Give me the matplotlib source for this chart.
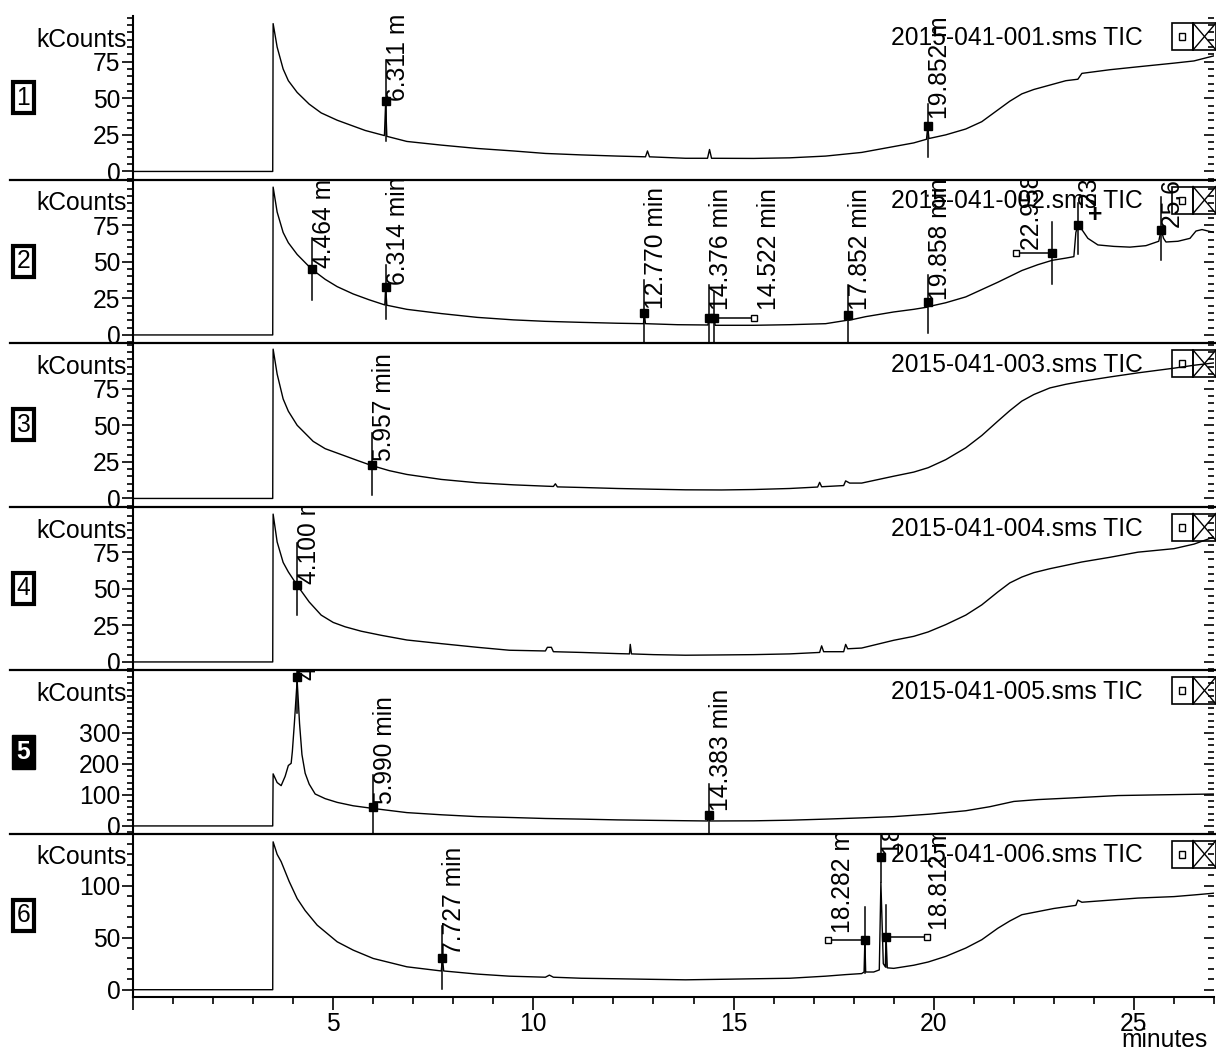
import matplotlib
matplotlib.use("Agg")
import matplotlib.pyplot as plt
from matplotlib.lines import Line2D
from matplotlib.patches import Rectangle
from matplotlib.ticker import FixedLocator, MultipleLocator

plt.rcParams['font.family'] = ['Liberation Sans', 'DejaVu Sans']

# ---- run names -------------------------------------------------------------
runs = ["2015-041-001.sms TIC", "2015-041-002.sms TIC", "2015-041-003.sms TIC",
        "2015-041-004.sms TIC", "2015-041-005.sms TIC", "2015-041-006.sms TIC"]

# ---- TIC traces (minutes, kCounts) -----------------------------------------
t1 = [0, 3.49, 3.5, 3.6, 3.75, 3.88, 4.1, 4.4, 4.7, 5.1, 5.5, 5.8, 6.28, 6.31, 6.34,
      6.84, 7.7, 8.6, 9.5, 10.3, 11.2, 12.1, 12.8, 12.85, 12.9, 13.8, 14.35, 14.4, 14.45,
      15.5, 16.4, 17.3, 18.2, 19.0, 19.5, 19.82, 19.85, 19.88, 20.3, 20.8, 21.2, 21.6,
      21.9, 22.2, 22.5, 22.9, 23.3, 23.6, 23.7, 24.4, 25.1, 26.0, 26.5, 27.0]
v1 = [0, 0, 101, 85, 70, 62, 54, 46, 40, 35, 31, 28, 24.5, 47, 24,
      20.5, 18, 15.7, 14, 12.3, 11.3, 10.5, 10, 14, 10, 9, 9, 15, 9,
      8.9, 9.3, 10.5, 13, 17, 19.5, 22, 31, 22.5, 25, 29, 34, 42,
      48, 53, 56, 59, 62, 63, 67, 69.5, 71.5, 74, 75.5, 79]

t2 = [0, 3.49, 3.5, 3.6, 3.75, 3.88, 4.1, 4.46, 4.8, 5.1, 5.5, 5.9, 6.29, 6.31, 6.34,
      6.84, 7.7, 8.6, 9.5, 10.3, 11.2, 12.1, 12.75, 12.77, 12.8, 13.6, 14.36, 14.38,
      14.52, 14.54, 15.5, 16.4, 17.3, 17.83, 17.85, 17.88, 18.3, 19.0, 19.5, 19.84,
      19.86, 19.89, 20.3, 20.8, 21.2, 21.6, 21.9, 22.2, 22.6, 22.96, 23.3, 23.5, 23.55,
      23.6, 23.7, 23.85, 24.1, 24.5, 24.9, 25.3, 25.62, 25.68, 25.74, 25.8, 26.1, 26.4,
      26.55, 26.7, 27.0]
v2 = [0, 0, 101, 84, 70, 63, 55, 45, 38, 33, 28, 24, 20.5, 33, 20.3,
      17.5, 14.6, 12, 10.3, 9.3, 8.6, 8, 7.7, 15.2, 7.7, 7, 6.8, 11.6,
      11.6, 6.6, 6.6, 7, 7.7, 10, 13.7, 10, 12.5, 15.7, 17.5, 19,
      22.5, 19.5, 22, 26, 31, 36, 40, 44, 48, 51, 52.5, 53.5, 70,
      75, 72, 66, 61.5, 60.5, 60, 61, 64, 72, 66, 63.5, 64, 66,
      71, 72, 70]

t3 = [0, 3.49, 3.5, 3.6, 3.75, 3.88, 4.1, 4.5, 4.8, 5.2, 5.6, 5.96, 6.4, 6.84, 7.7,
      8.6, 9.5, 10.3, 10.5, 10.55, 10.6, 11.2, 12.1, 13.0, 13.8, 14.7, 15.5, 16.4,
      17.1, 17.15, 17.2, 17.75, 17.8, 17.9, 18.2, 19.0, 19.5, 19.86, 20.3, 20.8, 21.2,
      21.6, 21.9, 22.2, 22.5, 22.9, 23.3, 23.7, 24.4, 25.1, 26.0, 26.5, 27.0]
v3 = [0, 0, 102, 85, 68, 59.6, 50, 39, 34, 30, 26, 22.5, 19, 16.4, 13,
      10.7, 9.3, 8.4, 8.2, 10, 7.9, 7.5, 6.8, 6.3, 5.9, 5.8, 6.1, 6.8,
      7.8, 11, 8, 8.8, 12, 10.5, 10.5, 15.2, 18, 21, 26.5, 34.6, 43,
      52.8, 60, 66.5, 71, 75.5, 78, 80, 83, 85.8, 89, 91, 92.6]

t4 = [0, 3.49, 3.5, 3.6, 3.75, 3.88, 4.1, 4.4, 4.7, 5.0, 5.3, 5.7, 6.2, 6.84, 7.7,
      8.6, 9.4, 10.3, 10.35, 10.45, 10.5, 11.2, 12.1, 12.4, 12.42, 12.45, 13.0, 13.8,
      14.7, 15.5, 16.4, 17.15, 17.2, 17.25, 17.75, 17.8, 17.85, 18.2, 19.0, 19.5,
      19.86, 20.3, 20.8, 21.2, 21.6, 21.9, 22.2, 22.5, 22.9, 23.3, 23.7, 24.4, 25.1,
      26.0, 26.5, 27.0]
v4 = [0, 0, 101, 82, 68, 61.5, 52.4, 41, 32, 27, 24, 21, 18.2, 15, 12.5,
      10, 8, 7.5, 10, 10, 7, 6.5, 5.7, 5.5, 12, 5.5, 5, 4.6,
      4.8, 5, 5.5, 6.5, 11, 7, 7, 12, 9, 9.5, 14.8, 17.5,
      20.5, 25.5, 32, 39, 47.8, 54, 58, 61, 63.7, 66, 68.3, 71.5, 75,
      77.4, 80.5, 85.4]

t5 = [0, 3.49, 3.5, 3.6, 3.7, 3.8, 3.88, 3.95, 3.98, 4.03, 4.1, 4.16, 4.22, 4.3, 4.4,
      4.55, 4.8, 5.1, 5.5, 5.96, 5.99, 6.02, 6.84, 7.7, 8.6, 9.5, 10.3, 11.2, 12.1,
      13.0, 14.35, 14.38, 14.41, 15.5, 16.4, 17.3, 18.2, 19.0, 19.9, 20.8, 21.4, 22.0,
      22.6, 23.4, 24.6, 25.5, 27.0]
v5 = [0, 0, 168, 140, 130, 160, 195, 202, 240, 330, 470, 330, 230, 170, 135,
      103, 88, 76, 65, 57, 60, 56, 43, 36, 30, 27, 24, 22, 19.5,
      18, 16, 36, 16, 16.5, 18.5, 22, 26, 30, 38, 49, 62, 79,
      85, 90, 98, 100, 103]

t6 = [0, 3.49, 3.5, 3.6, 3.7, 3.9, 4.1, 4.3, 4.6, 5.1, 5.5, 6.0, 6.84, 7.7, 7.73, 7.76,
      8.6, 9.4, 10.3, 10.4, 10.5, 11.2, 12.1, 12.9, 13.8, 14.7, 15.5, 16.4, 17.3, 17.8,
      18.2, 18.26, 18.28, 18.3, 18.5, 18.64, 18.68, 18.74, 18.79, 18.81, 18.84, 19.0,
      19.5, 19.86, 20.3, 20.8, 21.2, 21.6, 21.9, 22.2, 22.6, 23.0, 23.55, 23.6, 23.7,
      24.4, 25.1, 26.0, 26.5, 27.0]
v6 = [0, 0, 142, 130, 123, 104, 87.5, 76, 62, 46, 38, 30, 22, 18, 30.5, 18,
      15, 13, 12, 14, 12, 11, 10.5, 10, 9.5, 10, 10.5, 11, 13, 14.5,
      15.5, 17, 48, 17, 17, 19, 103, 25, 22, 50.7, 21, 20.5,
      23.5, 26.6, 32, 40, 48, 59, 66, 72, 75, 78, 81, 86, 84,
      86, 88, 89.4, 91, 92.7]

traces = [(t1, v1), (t2, v2), (t3, v3), (t4, v4), (t5, v5), (t6, v6)]

# ---- labelled peaks: (rt, marker kCounts, line low, line high, text x, text bottom, handle x)
peaks = [
    [(6.311, 48, 21, 76, 6.61, 48, None),
     (19.852, 31, 10, 46, 20.15, 36, None)],
    [(4.464, 45, 24, 66, 4.76, 46, None),
     (6.314, 33, 11, 48, 6.61, 34, None),
     (12.770, 15.2, -6, 37.5, 13.07, 18, None),
     (14.376, 11.6, -6, 34, 14.68, 17, None),
     (14.522, 11.6, -6, 29.5, 15.88, 17, 15.52),
     (17.852, 13.7, -6, 34, 18.15, 17, None),
     (19.858, 22.5, 1, 41, 20.16, 24, None),
     (22.958, 56, 35, 77, 22.45, 58, 22.05),
     (23.603, 75, 55, 90, 23.9, 88, None),
     (25.676, 72, 51, 94, 25.98, 73, None)],
    [(5.957, 23, 2.3, 45, 6.26, 25.5, None)],
    [(4.100, 52.4, 32, 81, 4.40, 53, None)],
    [(4.105, 480, 365, 520, 4.40, 470, None),
     (5.990, 60, -25, 163, 6.29, 72, None),
     (14.383, 36, -25, 136, 14.68, 49, None)],
    [(7.727, 30.5, 1, 61, 8.03, 33, None),
     (18.282, 48, 16, 79, 17.73, 54.5, 17.36),
     (18.684, 127.6, 103, 160, 18.98, 129.5, None),
     (18.812, 50.7, 22, 81.5, 20.15, 57.4, 19.84)],
]

# ---- axis scales per panel
ylims = [(-5.5, 106.2), (-5.5, 106.2), (-5.5, 106.2), (-5.5, 106.2), (-24.4, 503), (-7, 150)]
major_ticks = [[0, 25, 50, 75]] * 4 + [[0, 100, 200, 300], [0, 50, 100]]
minor_steps = [5, 5, 5, 5, 20, 10]

W, H = 1216, 1050
FS = 17.7


def fx(x):
    return x / W


def fy(y):
    return 1 - y / H


fig = plt.figure(figsize=(W / 100, H / 100), dpi=100)

left, right = 133, 1214
top, panel_h = 16, 163.5

for i in range(6):
    ptop = top + i * panel_h
    ax = fig.add_axes([fx(left), fy(ptop + panel_h), (right - left) / W, panel_h / H])
    ax.set_xlim(0, 27)
    ax.set_ylim(*ylims[i])
    ax.patch.set_visible(False)
    for s in ["top", "right"]:
        ax.spines[s].set_visible(False)
    if i < 5:
        ax.spines["bottom"].set_visible(False)
        ax.tick_params(axis="x", bottom=False, labelbottom=False)
    else:
        ax.xaxis.set_major_locator(FixedLocator([0, 5, 10, 15, 20, 25]))
        ax.xaxis.set_minor_locator(MultipleLocator(1))
        ax.set_xticklabels(["", "5", "10", "15", "20", "25"])
        ax.tick_params(axis="x", which="major", length=9, width=1.2, labelsize=FS, pad=2)
        ax.tick_params(axis="x", which="minor", length=5, width=1.2)
        ax.spines["bottom"].set_linewidth(1.5)
    ax.spines["left"].set_linewidth(1.5)

    step = minor_steps[i]
    lo, hi = ylims[i]
    minors = [k * step for k in range(int(lo // step) + 1, int(hi // step) + 1)]
    ax.yaxis.set_major_locator(FixedLocator(major_ticks[i]))
    ax.yaxis.set_minor_locator(FixedLocator(minors))
    ax.tick_params(axis="y", which="major", length=8, width=1.2, labelsize=FS, pad=1)
    ax.tick_params(axis="y", which="minor", length=4, width=1.2)

    # ticks on the right edge, pointing inward
    tw = ax.twinx()
    tw.set_ylim(*ylims[i])
    for s in tw.spines.values():
        s.set_visible(False)
    tw.yaxis.set_major_locator(FixedLocator(major_ticks[i]))
    tw.yaxis.set_minor_locator(FixedLocator(minors))
    tw.tick_params(axis="y", which="major", direction="in", length=7, width=1.2, labelright=False)
    tw.tick_params(axis="y", which="minor", direction="in", length=4, width=1.2)

    t, v = traces[i]
    ax.plot(t, v, color="black", lw=1.0, clip_on=True)

    for rt, mk, l0, l1, tx, tb, hx in peaks[i]:
        ax.plot([rt, rt], [l0, l1], color="black", lw=1.1)
        if hx is not None:
            ax.plot([hx, rt], [mk, mk], color="black", lw=1.1)
            ax.plot(hx, mk, "s", ms=5, mfc="white", mec="black", mew=1)
        ax.plot(rt, mk, "s", ms=6, color="black")
        ax.text(tx, tb, f"{rt:.3f} min", rotation=90, ha="center", va="bottom",
                fontsize=FS, clip_on=True)

    ax.text((1143 - left) / (right - left), 1 - 22 / panel_h, runs[i], transform=ax.transAxes,
            ha="right", va="center", fontsize=FS)
    ax.text(-0.006, 1 - 24 / panel_h, "kCounts", transform=ax.transAxes,
            ha="right", va="center", fontsize=FS)

    if i == 1:
        ax.text(24.04, 82, "+", ha="center", va="center", fontsize=FS, fontweight="bold")

    # panel number
    if i == 4:
        fig.text(fx(23.5), fy(ptop + panel_h / 2), str(i + 1), ha="center", va="center",
                 fontsize=FS, fontweight="bold", color="white",
                 bbox=dict(boxstyle="square,pad=0.2", fc="black", ec="black"))
    else:
        fig.text(fx(23.5), fy(ptop + panel_h / 2), str(i + 1), ha="center", va="center",
                 fontsize=FS, bbox=dict(boxstyle="square,pad=0.15", fc="white", ec="black", lw=3))

    # window buttons in the panel corner
    by0, by1 = ptop + 7, ptop + 34
    fig.add_artist(Rectangle((fx(1171.5), fy(by1)), 21.5 / W, 27 / H, transform=fig.transFigure,
                             fill=False, ec="black", lw=1.2))
    fig.add_artist(Rectangle((fx(1179), fy(by0 + 17)), 6 / W, 7 / H, transform=fig.transFigure,
                             fill=False, ec="black", lw=1.0))
    fig.add_artist(Rectangle((fx(1193), fy(by1)), 23 / W, 27 / H, transform=fig.transFigure,
                             fill=False, ec="black", lw=1.2))
    fig.add_artist(Line2D([fx(1193), fx(1216)], [fy(by0), fy(by1)], transform=fig.transFigure,
                          color="black", lw=1.0))
    fig.add_artist(Line2D([fx(1193), fx(1216)], [fy(by1), fy(by0)], transform=fig.transFigure,
                          color="black", lw=1.0))

    # separator under each panel except the last
    if i < 5:
        yb = ptop + panel_h
        fig.add_artist(Line2D([fx(10), 1], [fy(yb), fy(yb)], transform=fig.transFigure,
                              color="black", lw=1.6))

fig.text(fx(1208), fy(1040), "minutes", ha="right", va="center", fontsize=FS)

fig.savefig("out.png", dpi=100)
